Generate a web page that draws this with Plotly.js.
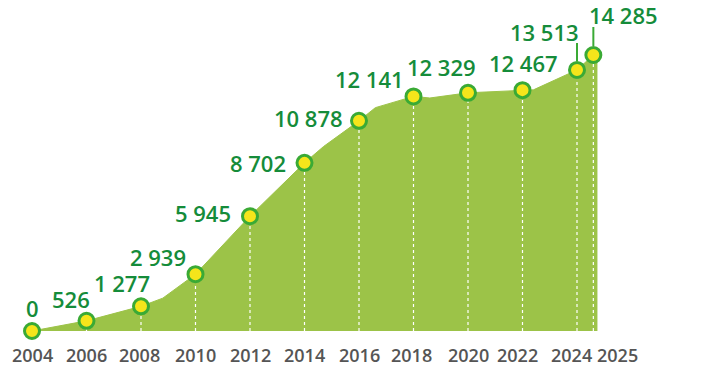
<!DOCTYPE html>
<html>
<head>
<meta charset="utf-8">
<script src="https://cdn.plot.ly/plotly-3.0.1.min.js"></script>
<style>
  html, body { margin: 0; padding: 0; background: #ffffff; }
  #chart { width: 708px; height: 374px; }
</style>
</head>
<body>
<div id="chart"></div>
<script>
// ---- data ----
const yearLabels = ['2004','2006','2008','2010','2012','2014','2016','2018','2020','2022','2024','2025'];
const pointX     = [2004, 2006, 2008, 2010, 2012, 2014, 2016, 2018, 2020, 2022, 2024, 2024.6];
const values     = [0, 526, 1277, 2939, 5945, 8702, 10878, 12141, 12329, 12467, 13513, 14285];

// outline of the filled area (includes unlabeled bends)
const outlineX = [2004, 2006, 2008, 2008.8, 2010, 2012, 2014, 2014.7, 2016, 2016.6, 2018, 2018.6, 2020, 2022, 2022.4, 2024, 2024.6, 2024.75];
const outlineY = [0, 526, 1277, 1700, 2939, 5945, 8702, 9550, 10878, 11560, 12141, 12060, 12329, 12467, 12480, 13513, 14285, 14285];

// ---- styling / placement (not data) ----
const labelOffset = [[0,-23],[-16,-22],[-19,-23],[-38,-17],[-47,-3],[-47,0],[-51,-3],[-44,-17],[-27,-26],[1,-27],[-33,-38],[30,-40]];
const yearShift   = [0,0,-2,0,0,0,0,-2,0,-5,-6,24];
const leaderIdx   = [[10, 9, 27], [11, 9, 28]]; // index, start px above centre, end px above centre

const fmt = v => String(v).replace(/\B(?=(\d{3})+(?!\d))/g, ' ');

const GREEN_FILL = '#9cc348';
const RING = '#3aaa35';
const LABEL = '#158c3a';

const area = {
  x: outlineX, y: outlineY, type: 'scatter', mode: 'lines',
  fill: 'tozeroy', fillcolor: GREEN_FILL,
  line: { color: GREEN_FILL, width: 1 }, hoverinfo: 'skip'
};

const dx = [], dy = [];
for (let i = 1; i < pointX.length; i++) {
  dx.push(pointX[i], pointX[i], null);
  dy.push(0, values[i], null);
}
const dashes = {
  x: dx, y: dy, type: 'scatter', mode: 'lines',
  line: { color: '#ffffff', width: 1.2, dash: '3px,3px' }, hoverinfo: 'skip'
};

const markers = {
  x: pointX, y: values, type: 'scatter', mode: 'markers',
  marker: { size: 15, color: '#f5e51b', line: { color: RING, width: 3 } },
  cliponaxis: false, hoverinfo: 'skip'
};

const annotations = [];
values.forEach((v, i) => {
  annotations.push({
    x: pointX[i], y: v, xref: 'x', yref: 'y', text: fmt(v), showarrow: false,
    xanchor: 'center', yanchor: 'middle',
    xshift: labelOffset[i][0], yshift: -labelOffset[i][1],
    font: { family: 'Open Sans', size: 22, color: LABEL, weight: 600 }
  });
});
yearLabels.forEach((t, i) => {
  annotations.push({
    x: pointX[i], y: 0, xref: 'x', yref: 'y', text: t, showarrow: false,
    xanchor: 'center', yanchor: 'middle',
    xshift: yearShift[i], yshift: -24,
    font: { family: 'Open Sans', size: 18, color: '#555555', weight: 600 }
  });
});

const shapes = leaderIdx.map(([i, a, b]) => ({
  type: 'line', xref: 'x', yref: 'y', ysizemode: 'pixel', yanchor: values[i],
  x0: pointX[i], x1: pointX[i], y0: a, y1: b,
  line: { color: RING, width: 2 }
}));

const pxPerYear = 27.25, x0px = 32, W = 708, H = 374;
const zeroPx = 331, topPx = 55;
const k = (zeroPx - topPx) / values[values.length - 1];

const layout = {
  width: W, height: H,
  margin: { l: 0, r: 0, t: 0, b: 0 },
  paper_bgcolor: '#ffffff', plot_bgcolor: '#ffffff',
  showlegend: false, hovermode: false,
  xaxis: {
    range: [pointX[0] - x0px / pxPerYear, pointX[0] + (W - x0px) / pxPerYear],
    showgrid: false, zeroline: false, showticklabels: false, showline: false, ticks: '', fixedrange: true
  },
  yaxis: {
    range: [-(H - zeroPx) / k, zeroPx / k],
    showgrid: false, zeroline: false, showticklabels: false, showline: false, ticks: '', fixedrange: true
  },
  annotations: annotations,
  shapes: shapes
};

Plotly.newPlot('chart', [area, dashes, markers], layout, { displayModeBar: false, staticPlot: true });
</script>
</body>
</html>
